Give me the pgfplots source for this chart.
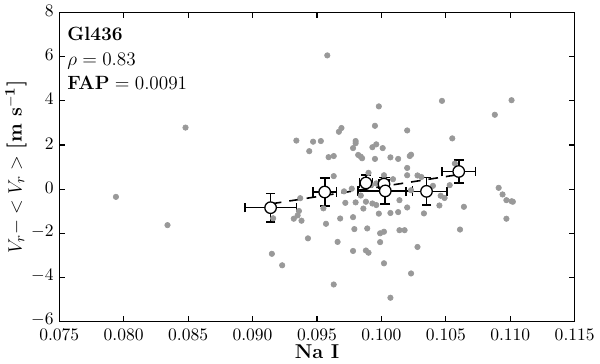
\documentclass[border=0pt]{standalone}
\usepackage{pgfplots}
\pgfplotsset{compat=1.18}
\definecolor{dotgray}{HTML}{999999}

\pgfplotstableread{
x y
0.0794 -0.35
0.0834 -1.63
0.0848 2.79
0.0958 6.06
0.0998 3.75
0.1047 4.00
0.1101 4.03
0.1088 3.37
0.0995 2.87
0.1020 2.66
0.0969 2.77
0.0967 2.60
0.0934 2.20
0.0947 2.15
0.0953 2.18
0.0944 1.72
0.0980 2.18
0.0980 2.08
0.0978 1.86
0.0996 2.03
0.0993 1.90
0.1001 1.86
0.1055 2.30
0.0982 1.55
0.0984 1.47
0.0985 1.40
0.0959 1.45
0.0963 1.50
0.0995 1.37
0.1007 1.44
0.1013 1.37
0.1022 1.50
0.1023 1.56
0.1020 0.96
0.1057 1.16
0.0963 0.59
0.0990 0.74
0.1002 0.63
0.1009 0.45
0.1020 0.63
0.1028 0.62
0.1031 0.55
0.1040 0.15
0.1053 0.18
0.1091 0.06
0.1094 -0.24
0.1097 -0.50
0.1101 -0.55
0.1102 -0.57
0.1097 -1.34
0.1061 -1.83
0.1064 -0.80
0.1045 -0.74
0.1046 -0.30
0.1049 -0.40
0.1033 -1.10
0.1023 -3.82
0.1028 -2.62
0.1007 -4.92
0.1002 -3.36
0.0999 -2.40
0.0999 -2.00
0.1002 -1.93
0.0990 -2.88
0.0988 -2.78
0.0978 -2.80
0.0989 -1.78
0.0979 -1.81
0.0978 -1.27
0.0998 -1.11
0.1007 -1.08
0.1013 -1.04
0.1014 -1.86
0.1018 -1.86
0.1020 -0.83
0.0968 -1.33
0.0957 -1.57
0.0966 -2.39
0.0963 -4.32
0.0943 -2.23
0.0915 -2.93
0.0923 -3.45
0.0932 -1.34
0.0935 -1.19
0.0936 -0.99
0.0938 -1.43
0.0937 -0.41
0.0916 -1.32
0.0955 -0.87
0.0972 -0.62
0.0980 -0.60
0.0986 -0.88
0.0988 -0.57
0.0993 -0.65
0.0996 -0.72
0.0977 0.02
0.0984 -0.29
0.1004 -0.05
0.1014 -0.50
0.0992 0.18
0.0996 0.26
0.1023 -0.05
0.0971 -0.10
}\rawdata

\pgfplotstableread{
x y ex ey
0.0914 -0.84 0.0020 0.64
0.0956 -0.13 0.0009 0.64
0.0988 0.28 0.0005 0.35
0.1002 0.23 0.0004 0.30
0.1003 -0.08 0.0021 0.60
0.1035 -0.10 0.0016 0.63
0.1060 0.80 0.0013 0.53
}\bins

\begin{document}
\begin{tikzpicture}
\begin{axis}[
  width=322pt,height=193pt,scale only axis,
  xmin=0.075,xmax=0.115,ymin=-6,ymax=8,
  xtick={0.075,0.080,0.085,0.090,0.095,0.100,0.105,0.110,0.115},
  ytick={-6,-4,-2,0,2,4,6,8},
  scaled x ticks=false,
  xticklabel style={/pgf/number format/fixed,/pgf/number format/fixed zerofill,/pgf/number format/precision=3,yshift=-1pt},
  yticklabel style={yshift=1pt},
  tick label style={font=\fontsize{10.5}{12}\selectfont},
  label style={font=\fontsize{12.5}{14}\selectfont},
  xlabel={\textbf{Na I}},
  ylabel={$V_r - <V_r>$ \textbf{[m s$^{\mathbf{-1}}$]}},
  xlabel style={yshift=4pt},
  ylabel style={yshift=-4pt},
  tick align=inside,
  major tick length=3.5pt,
  every tick/.style={black,line width=0.7pt},
  axis line style={line width=0.9pt},
  clip=false]
\addplot[only marks,mark=*,mark size=1.7pt,color=dotgray,mark options={draw=dotgray,fill=dotgray}]
  table[x=x,y=y]{\rawdata};
\addplot[black,dashed,line width=1pt,dash pattern=on 6pt off 5pt]
  coordinates{(0.0915,-0.66)(0.1060,0.66)};
\addplot[only marks,mark=*,mark size=3.6pt,mark options={fill=white,draw=black,line width=0.8pt},
  error bars/.cd,x dir=both,x explicit,y dir=both,y explicit,
  error bar style={black,line width=1pt},
  error mark options={rotate=90,mark size=3pt,line width=1pt}]
  table[x=x,y=y,x error=ex,y error=ey]{\bins};
\node[anchor=north west,align=left,font=\fontsize{12}{15.5}\selectfont,inner sep=0pt]
  at (rel axis cs:0.015,0.955) {\textbf{Gl436}\\$\rho = 0.83$\\$\mathbf{FAP} = 0.0091$};
\end{axis}
\end{tikzpicture}
\end{document}
